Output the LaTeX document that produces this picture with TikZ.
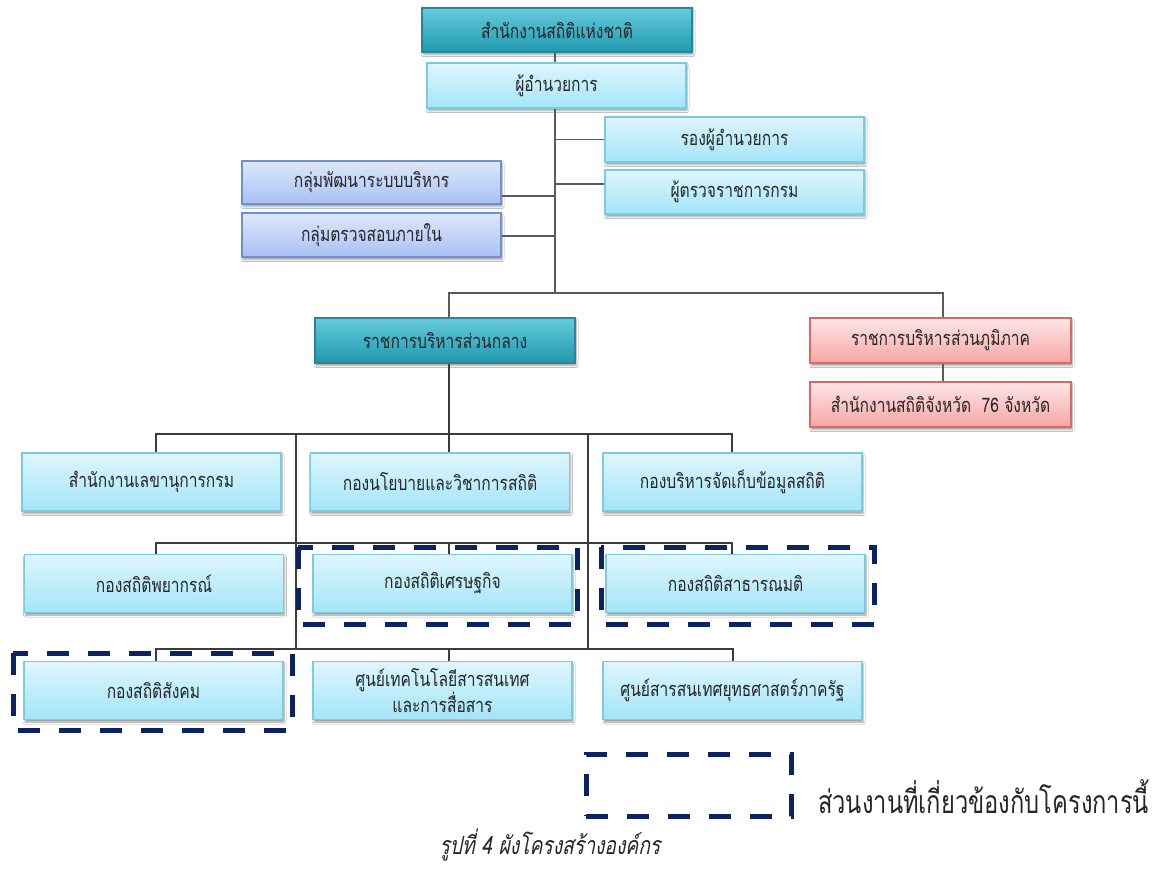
\documentclass[tikz,border=0pt]{standalone}
\usepackage{fontspec}
\usetikzlibrary{shadows.blur}
\newfontfamily\thai[Script=Thai,FakeStretch=0.78]{Loma}
\newfontfamily\thaileg[Script=Thai,FakeStretch=0.74]{Loma}
\newfontfamily\thaicap[Script=Thai,FakeStretch=0.77,FakeSlant=0.2]{Loma}
\definecolor{cyT}{HTML}{DEF6FD}
\definecolor{cyB}{HTML}{A3E5F8}
\definecolor{cyD}{HTML}{7CCADD}
\definecolor{tlT}{HTML}{66CADC}
\definecolor{tlB}{HTML}{1F98AE}
\definecolor{tlD}{HTML}{2A8696}
\definecolor{blT}{HTML}{DEE7FC}
\definecolor{blB}{HTML}{A7C1F4}
\definecolor{blD}{HTML}{6C90D2}
\definecolor{pkT}{HTML}{FFE6E6}
\definecolor{pkB}{HTML}{F6A5A5}
\definecolor{pkD}{HTML}{D46A6A}
\definecolor{navy}{HTML}{0B2263}
\definecolor{lineA}{HTML}{5A5A5A}
\definecolor{lineB}{HTML}{3C3C3C}
\tikzset{
  box/.style={rectangle, line width=1.2pt, minimum width=259pt, minimum height=45pt,
    inner sep=0pt, align=center, text=black!85,
    font=\thai\fontsize{20}{24}\selectfont,
    blur shadow={shadow xshift=1pt, shadow yshift=-2.5pt, shadow blur radius=2pt, shadow opacity=40}},
  cybox/.style={box, draw=cyD, top color=cyT, bottom color=cyB},
  tlbox/.style={box, draw=tlD, top color=tlT, bottom color=tlB},
  blbox/.style={box, draw=blD, top color=blT, bottom color=blB},
  pkbox/.style={box, draw=pkD, top color=pkT, bottom color=pkB},
  tall/.style={minimum height=58pt},
  connA/.style={draw=lineA, line width=1.6pt},
  connB/.style={draw=lineB, line width=1.1pt},
  hl/.style={draw=navy, line width=5pt, dash pattern=on 22pt off 19pt},
}
\begin{document}
\begin{tikzpicture}[x=1pt,y=-1pt]
\useasboundingbox[fill=white] (0,0) rectangle (1164,868);

% helper coordinates
\coordinate (tr) at (555,0);
\coordinate (bus) at (555,293);
\coordinate (bl) at (449,293);
\coordinate (br) at (943,293);
\coordinate (b1) at (449,434);
\coordinate (b1l) at (156,434);
\coordinate (b1r) at (732,434);
\coordinate (v1t) at (296,434);
\coordinate (v2t) at (588,434);
\coordinate (b2) at (449,543);
\coordinate (b2l) at (156,543);
\coordinate (b2r) at (732,543);
\coordinate (b3) at (449,649);
\coordinate (b3l) at (156,649);
\coordinate (b3r) at (733,649);
\coordinate (v1b) at (296,649);
\coordinate (v2b) at (588,649);

% nodes
\node[tlbox, minimum width=270pt, minimum height=44pt] (top) at (557,30) {สำนักงานสถิติแห่งชาติ};
\node[cybox] (dir) at (556.5,85.5) {ผู้อำนวยการ};
\node[cybox] (rong) at (734.5,139.5) {รองผู้อำนวยการ};
\node[cybox, minimum height=44pt] (insp) at (734.5,192) {ผู้ตรวจราชการกรม};
\node[blbox, minimum height=43pt] (pat) at (371.5,182.5) {กลุ่มพัฒนาระบบบริหาร};
\node[blbox, minimum height=44pt] (aud) at (371.5,235) {กลุ่มตรวจสอบภายใน};
\node[tlbox, minimum width=260pt] (central) at (445,340.5) {ราชการบริหารส่วนกลาง};
\node[pkbox, minimum width=261pt] (region) at (940.5,340.5) {ราชการบริหารส่วนภูมิภาค};
\node[pkbox, minimum width=261pt] (prov) at (940.5,404.5) {สำนักงานสถิติจังหวัด\ \ 76 จังหวัด};

\node[cybox, tall] (r1c1) at (151.5,482) {สำนักงานเลขานุการกรม};
\node[cybox, tall] (r1c2) at (440,482) {กองนโยบายและวิชาการสถิติ};
\node[cybox, tall] (r1c3) at (732.5,482) {กองบริหารจัดเก็บข้อมูลสถิติ};
\node[cybox, tall] (r2c1) at (154,583.5) {กองสถิติพยากรณ์};
\node[cybox, tall] (r2c2) at (442.5,583.5) {กองสถิติเศรษฐกิจ};
\node[cybox, tall] (r2c3) at (735.5,583.5) {กองสถิติสาธารณมติ};
\node[cybox, tall] (r3c1) at (153.5,690.5) {กองสถิติสังคม};
\node[cybox, tall] (r3c2) at (442.5,690.5) {ศูนย์เทคโนโลยีสารสนเทศ\\และการสื่อสาร};
\node[cybox, tall] (r3c3) at (732.5,690.5) {ศูนย์สารสนเทศยุทธศาสตร์ภาครัฐ};

% connectors
\path[connA] (top.south -| tr) -- (dir.north -| tr);
\path[connA] (dir.south -| tr) -- (bus);
\path[connA] (rong.west) -- (rong.west -| tr);
\path[connA] ([yshift=8pt]insp.west) -- ([yshift=8pt]insp.west -| tr);
\path[connA] ([yshift=-13.5pt]pat.east) -- ([yshift=-13.5pt]pat.east -| tr);
\path[connA] ([yshift=-1pt]aud.east) -- ([yshift=-1pt]aud.east -| tr);
\path[connA] (bl |- central.north) -- (bl) -- (br) -- (br |- region.north);
\path[connA] (region.south -| br) -- (prov.north -| br);

\path[connB] (central.south -| b1) -- (b1) -- (b1 |- r1c2.north);
\path[connB] (b1l |- r1c1.north) -- (b1l) -- (b1r) -- (b1r |- r1c3.north);
\path[connB] (v1t) -- (v1b);
\path[connB] (v2t) -- (v2b);
\path[connB] (b2l |- r2c1.north) -- (b2l) -- (b2r) -- (b2r |- r2c3.north);
\path[connB] (b2) -- (b2 |- r2c2.north);
\path[connB] (b3l |- r3c1.north) -- (b3l) -- (b3r) -- (b3r |- r3c3.north);
\path[connB] (b3) -- (b3 |- r3c2.north);

% highlight frames
\draw[hl] (298,547) rectangle (577,624);
\draw[hl] (601,547) rectangle (874,624);
\draw[hl] (13,653) rectangle (292,730);

% legend
\node[hl, rectangle, minimum width=205pt, minimum height=62pt, inner sep=0pt] (leg) at (688.5,785) {};
\node[anchor=west, inner sep=0pt, text=black!85, font=\thaileg\fontsize{32}{36}\selectfont] (legtxt) at (818,797) {ส่วนงานที่เกี่ยวข้องกับโครงการนี้};

% caption
\node[inner sep=0pt, text=black!85, font=\thaicap\fontsize{25}{28}\selectfont] (cap) at (550,845) {รูปที่ 4 ผังโครงสร้างองค์กร};
\end{tikzpicture}
\end{document}
